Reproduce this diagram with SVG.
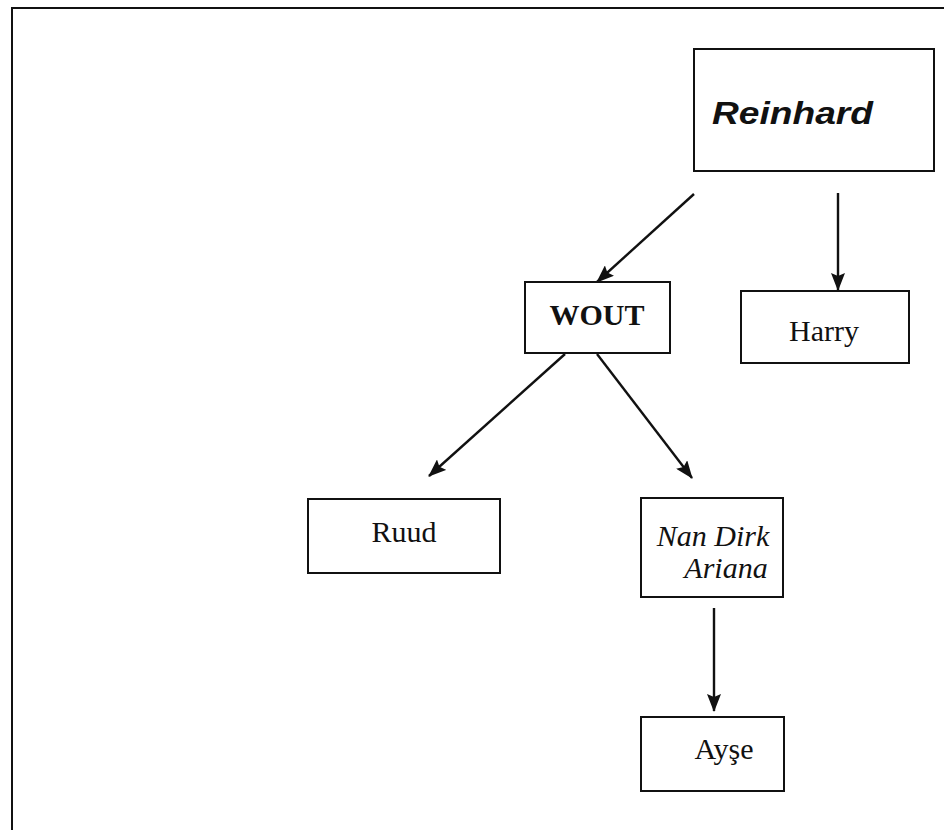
<svg xmlns="http://www.w3.org/2000/svg" width="944" height="830" viewBox="0 0 944 830">
<style>
.box{fill:#fff;stroke:#111;stroke-width:2}
.t{font-family:"Liberation Serif","Times New Roman",serif;font-size:30px;fill:#111;text-anchor:middle}
.c{stroke:#111;stroke-width:2.4;fill:none;marker-end:url(#ah)}
</style>
<defs>
<marker id="ah" viewBox="0 0 18 14" refX="17" refY="7" markerWidth="18" markerHeight="14" markerUnits="userSpaceOnUse" orient="auto"><path d="M0,0 L18,7 L0,14 L3,7 Z" fill="#111"/></marker>
</defs>
<rect width="944" height="830" fill="#fff"/>
<g id="frame"><path d="M12,830 L12,8 L944,8" fill="none" stroke="#111" stroke-width="2"/></g>
<g id="connectors">
<line class="c" x1="694" y1="194" x2="597" y2="282"/>
<line class="c" x1="838" y1="193" x2="838" y2="290"/>
<line class="c" x1="565" y1="354" x2="429" y2="476"/>
<line class="c" x1="597" y1="354" x2="692" y2="478"/>
<line class="c" x1="714" y1="608" x2="714" y2="711"/>
</g>
<g id="reinhard"><rect class="box" x="694" y="49" width="240" height="122"/>
<text x="712" y="124" font-family="Liberation Sans,Arial,sans-serif" font-size="31" font-weight="bold" font-style="italic" fill="#111" textLength="161" lengthAdjust="spacingAndGlyphs">Reinhard</text></g>
<g id="wout"><rect class="box" x="525" y="282" width="145" height="71"/>
<text class="t" x="597" y="325" font-weight="bold" font-size="31">WOUT</text></g>
<g id="harry"><rect class="box" x="741" y="291" width="168" height="72"/>
<text class="t" x="824" y="341">Harry</text></g>
<g id="ruud"><rect class="box" x="308" y="499" width="192" height="74"/>
<text class="t" x="404" y="542">Ruud</text></g>
<g id="nan"><rect class="box" x="641" y="498" width="142" height="99"/>
<text class="t" x="713" y="546" font-style="italic" font-size="29">Nan Dirk</text>
<text class="t" x="726" y="578" font-style="italic" font-size="29">Ariana</text></g>
<g id="ayse"><rect class="box" x="641" y="717" width="143" height="74"/>
<text class="t" x="724" y="759">Ayşe</text></g>
</svg>
